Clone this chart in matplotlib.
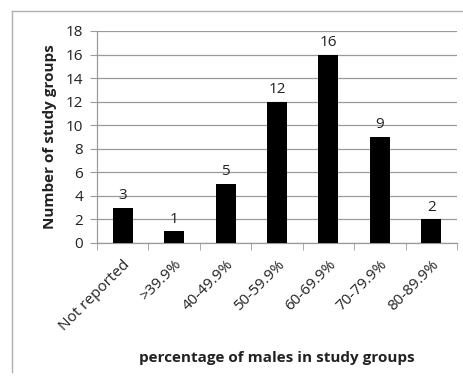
import matplotlib
matplotlib.use("Agg")
import matplotlib.pyplot as plt
from matplotlib.lines import Line2D

categories = ["Not reported", ">39.9%", "40-49.9%", "50-59.9%", "60-69.9%", "70-79.9%", "80-89.9%"]
values = [3, 1, 5, 12, 16, 9, 2]
yticks = [0, 2, 4, 6, 8, 10, 12, 14, 16, 18]

plt.rcParams['font.family'] = ['Open Sans', 'DejaVu Sans']

W, H = 463, 383
fs = 11
fig = plt.figure(figsize=(W/100, H/100), dpi=100)
ax = fig.add_axes([97/W, 1-243/H, (457-97)/W, (243-31)/H])

x = list(range(len(categories)))
ax.bar(x, values, width=0.39, color='black', zorder=3)
for xi, v in zip(x, values):
    ax.text(xi, v + 0.4, str(v), ha='center', va='bottom', fontsize=fs, color='#222222')

ax.set_xlim(-0.5, len(categories) - 0.5)
ax.set_ylim(0, 18)
ax.set_yticks(yticks)
ax.set_yticklabels([str(t) for t in yticks], fontsize=fs, color='#222222')
ax.yaxis.grid(True, color='#9a9a9a', linewidth=0.9, zorder=0)
ax.set_xticks(x)
ax.set_xticklabels(categories, rotation=45, ha='right', rotation_mode='anchor', fontsize=fs, color='#222222')
ax.tick_params(axis='x', length=0, pad=10)
ax.tick_params(axis='y', length=5, color='#9a9a9a', pad=5)
ax.set_xticks([i - 0.5 for i in range(len(categories) + 1)], minor=True)
ax.tick_params(axis='x', which='minor', length=5, color='#9a9a9a', direction='out')

for s in ['top', 'right']:
    ax.spines[s].set_visible(False)
for s in ['left', 'bottom']:
    ax.spines[s].set_color('#9a9a9a')
    ax.spines[s].set_linewidth(0.9)

ax.set_ylabel('Number of study groups', fontsize=fs, fontweight='bold', color='#222222', labelpad=6)
fig.text(277/W, 1-358/H, 'percentage of males in study groups', ha='center', va='center',
         fontsize=fs, fontweight='bold', color='#222222')

fig.add_artist(Line2D([12/W, 12/W], [1-11/H, 1-372/H], transform=fig.transFigure, color='#b0b0b0', linewidth=1))
fig.add_artist(Line2D([12/W, 1.0], [1-11/H, 1-11/H], transform=fig.transFigure, color='#b0b0b0', linewidth=1))

fig.savefig('out.png', dpi=100)
